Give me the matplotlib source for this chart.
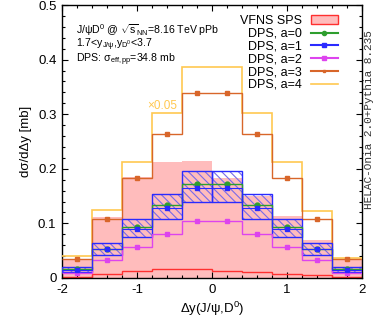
import numpy as np
import matplotlib
matplotlib.use("Agg")
import matplotlib.pyplot as plt
from matplotlib.patches import Patch
from matplotlib.lines import Line2D
from matplotlib.ticker import MultipleLocator

plt.rcParams['font.family'] = ['Liberation Sans', 'DejaVu Sans']
plt.rcParams['mathtext.fontset'] = 'custom'
plt.rcParams['mathtext.rm'] = 'Liberation Sans'
plt.rcParams['mathtext.it'] = 'Liberation Sans:italic'
plt.rcParams['mathtext.bf'] = 'Liberation Sans:bold'
plt.rcParams['hatch.linewidth'] = 0.8

# ---- data ----
edges = [-2.0, -1.6, -1.2, -0.8, -0.4, 0.0, 0.4, 0.8, 1.2, 1.6, 2.0]
sps_upper = [0.035, 0.112, 0.185, 0.212, 0.214, 0.183, 0.151, 0.114, 0.070, 0.033]
sps_lower = [0.0025, 0.008, 0.0134, 0.016, 0.016, 0.0134, 0.0104, 0.0073, 0.005, 0.0025]
dps_a0 = [0.016, 0.0537, 0.0928, 0.134, 0.172, 0.172, 0.134, 0.0928, 0.0537, 0.016]
dps_a1 = [0.015, 0.0525, 0.0897, 0.128, 0.1654, 0.1654, 0.128, 0.0897, 0.0525, 0.015]
dps_a1_hi = [0.0200, 0.0650, 0.108, 0.154, 0.1966, 0.1966, 0.154, 0.108, 0.0650, 0.0200]
dps_a1_lo = [0.0108, 0.0430, 0.0745, 0.1075, 0.1386, 0.1386, 0.1075, 0.0745, 0.0430, 0.0108]
dps_a2 = [0.0098, 0.0336, 0.0562, 0.081, 0.105, 0.105, 0.081, 0.0562, 0.0336, 0.0098]
dps_a3 = [0.035, 0.1087, 0.184, 0.263, 0.338, 0.338, 0.263, 0.184, 0.1075, 0.034]
dps_a4 = [0.040, 0.1245, 0.212, 0.302, 0.387, 0.387, 0.302, 0.212, 0.123, 0.037]

edges = np.array(edges)
centers = 0.5 * (edges[:-1] + edges[1:])
widths = np.diff(edges)

c_pink = '#ffbcbc'
c_red = '#ff3030'
c_green = '#2e9e2e'
c_blue = '#2a2aff'
c_hatch = '#7a6ae8'
c_mag = '#dd44ee'
c_orange = '#d8662a'
c_yellow = '#ffc850'

fig = plt.figure(figsize=(3.74, 3.22), dpi=100)
ax = fig.add_axes([62/374, 1-278/322, 300/374, 273/322])

# SPS band
ax.stairs(sps_upper, edges, baseline=0, fill=True, color=c_pink, lw=0, zorder=1)
ax.stairs(sps_lower, edges, baseline=None, color=c_red, lw=1.0, zorder=2)

# DPS a=4 and a=3
ax.stairs(dps_a4, edges, baseline=None, color=c_yellow, lw=1.2, zorder=3)
ax.stairs(dps_a3, edges, baseline=None, color=c_orange, lw=1.0, zorder=3)
ax.plot(centers, dps_a3, ls='none', marker='s', ms=2.5, color=c_orange, zorder=4)

# a=1 band
hi = np.array(dps_a1_hi); lo = np.array(dps_a1_lo)
ax.bar(centers, hi - lo, width=widths, bottom=lo, facecolor='none', edgecolor=c_hatch,
       hatch='\\\\\\\\', lw=0, zorder=4)
ax.bar(centers, hi - lo, width=widths, bottom=lo, facecolor='none', edgecolor=c_blue,
       lw=1.0, zorder=5)

# a=2
ax.stairs(dps_a2, edges, baseline=None, color=c_mag, lw=1.0, zorder=5)
ax.plot(centers, dps_a2, ls='none', marker='s', ms=3.2, color=c_mag, zorder=6)
# a=0
ax.stairs(dps_a0, edges, baseline=None, color=c_green, lw=1.0, zorder=6)
ax.plot(centers, dps_a0, ls='none', marker='o', ms=3.5, color=c_green, zorder=7)
# a=1 central
ax.stairs(dps_a1, edges, baseline=None, color=c_blue, lw=0.8, zorder=6)
ax.plot(centers, dps_a1, ls='none', marker='s', ms=3.0, color=c_blue, zorder=7)

ax.set_xlim(-2, 2)
ax.set_ylim(0, 0.5)
ax.xaxis.set_minor_locator(MultipleLocator(0.2))
ax.yaxis.set_minor_locator(MultipleLocator(0.02))
ax.set_yticks([0, 0.1, 0.2, 0.3, 0.4, 0.5])
ax.set_yticklabels(['0', '0.1', '0.2', '0.3', '0.4', '0.5'])
ax.set_xticks([-2, -1, 0, 1, 2])
ax.set_xticklabels(['-2', '-1', '0', '1', '2'])
ax.tick_params(which='both', direction='in', top=True, right=True, labelsize=9.5,
               width=0.8, pad=4)
ax.tick_params(which='major', length=4)
ax.tick_params(which='minor', length=2.5)
for s in ax.spines.values():
    s.set_linewidth(1.0)

ax.set_xlabel(r'Δy(J/ψ,D$^{0}$)', fontsize=9.5, labelpad=3)
ax.set_ylabel(r'dσ/dΔy [mb]', fontsize=9.5, labelpad=4)

tx = -1.81
ax.text(tx, 0.447, r'J/ψD$^{0}$ @ $\sqrt{\mathrm{s}}_{\mathrm{NN}}$=8.16 TeV pPb', fontsize=7.6,
        va='baseline', ha='left')
ax.text(tx, 0.4225, r'1.7<y$_{\mathrm{J/ψ}}$,y$_{\mathrm{D^0}}$<3.7', fontsize=7.6,
        va='baseline', ha='left')
ax.text(tx, 0.3945, r'DPS: σ$_{\mathrm{eff,pp}}$=34.8 mb', fontsize=7.6,
        va='baseline', ha='left')
ax.text(-0.87, 0.304, '×0.05', fontsize=8.5, color=c_yellow, ha='left', va='bottom')

handles = [
    Patch(facecolor=c_pink, edgecolor=c_red, lw=1.0),
    Line2D([], [], color=c_green, marker='o', ms=3),
    Line2D([], [], color=c_blue, marker='s', ms=2.5),
    Line2D([], [], color=c_mag, marker='s', ms=2.5),
    Line2D([], [], color=c_orange, marker='s', ms=2),
    Line2D([], [], color=c_yellow, lw=1.2),
]
labels = ['VFNS SPS', 'DPS, a=0', 'DPS, a=1', 'DPS, a=2', 'DPS, a=3', 'DPS, a=4']
leg = ax.legend(handles, labels, loc='upper right', bbox_to_anchor=(0.945, 0.99),
                frameon=False, markerfirst=False, fontsize=9, handlelength=2.2,
                handletextpad=0.7, labelspacing=0.06, borderaxespad=0.2)
for t in leg.get_texts():
    t.set_ha('right')

fig.text(0.987, 0.63, 'HELAC-Onia 2.0+Pythia 8.235', rotation=90, fontsize=8,
         family='Liberation Mono', color='#333333', ha='center', va='center')

fig.savefig('out.png', dpi=100)
